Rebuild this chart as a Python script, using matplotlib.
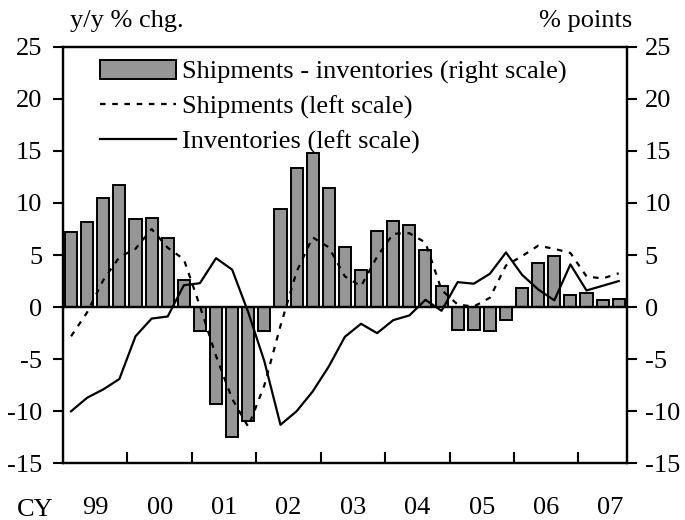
import numpy as np
import matplotlib.pyplot as plt
from matplotlib.ticker import FixedLocator, NullFormatter

plt.rcParams['font.family'] = ['Liberation Serif', 'DejaVu Serif']
plt.rcParams['axes.unicode_minus'] = False

# quarterly data, 1999 Q1 .. 2007 Q3
years = ["99", "00", "01", "02", "03", "04", "05", "06", "07"]

spread = [7.25, 8.2, 10.5, 11.7,
          8.45, 8.6, 6.6, 2.6,
          -2.3, -9.35, -12.5, -10.95,
          -2.3, 9.45, 13.4, 14.8,
          11.45, 5.8, 3.6, 7.35,
          8.3, 7.9, 5.5, 2.0,
          -2.15, -2.2, -2.3, -1.27,
          1.8, 4.2, 4.95, 1.13,
          1.35, 0.7, 0.75]

shipments = [-2.8, -0.5, 2.6, 4.8,
             5.6, 7.5, 5.7, 4.6,
             0.1, -4.7, -8.8, -11.5,
             -7.5, -1.8, 3.4, 6.7,
             5.75, 2.95, 2.0, 4.85,
             7.05, 7.1, 6.2, 1.65,
             0.25, 0.05, 0.9, 4.0,
             4.9, 5.9, 5.6, 5.2,
             2.95, 2.75, 3.25]

inventories = [-10.0, -8.7, -7.9, -6.9,
               -2.8, -1.1, -0.9, 2.1,
               2.3, 4.7, 3.6, -0.5,
               -5.2, -11.3, -10.0, -8.1,
               -5.7, -2.85, -1.6, -2.5,
               -1.25, -0.8, 0.7, -0.35,
               2.4, 2.25, 3.2, 5.25,
               3.1, 1.7, 0.65, 4.1,
               1.6, 2.05, 2.5]

x = np.arange(len(spread)) + 0.5
fs = 19

fig = plt.figure(figsize=(6.85, 5.2), dpi=100)
ax = fig.add_axes([0.092, 0.109, 0.823, 0.801])
ax2 = ax.twinx()

# bars on right scale, drawn behind the lines
ax2.bar(x, spread, width=0.75, color='#969696', edgecolor='black', linewidth=1.4,
        label="Shipments - inventories (right scale)")
ax.set_zorder(ax2.get_zorder() + 1)
ax.patch.set_visible(False)

ax.plot(x, shipments, color='black', lw=1.6, linestyle=(0, (2.5, 3.0)),
        label="Shipments (left scale)")
ax.plot(x, inventories, color='black', lw=1.6, label="Inventories (left scale)")

for a in (ax, ax2):
    a.set_xlim(0, 35)
    a.set_ylim(-15, 25)
    a.set_yticks(np.arange(-15, 26, 5))
    for s in a.spines.values():
        s.set_linewidth(1.6)
    a.axhline(0, color='black', lw=1.6, zorder=1)

ax.tick_params(axis='y', which='major', direction='out', length=7, width=1.5,
               labelsize=fs, pad=8)
ax2.tick_params(axis='y', which='major', direction='out', length=7, width=1.5,
                labelsize=fs, pad=6)

ax.xaxis.set_major_locator(FixedLocator(np.arange(2, 36, 4)))
ax.set_xticklabels(years)
ax.xaxis.set_minor_locator(FixedLocator(np.arange(4, 35, 4)))
ax.xaxis.set_minor_formatter(NullFormatter())
ax.tick_params(axis='x', which='major', length=0, labelsize=fs, pad=24)
ax.tick_params(axis='x', which='minor', direction='in', length=8, width=1.5)
ax2.tick_params(axis='x', which='both', length=0)

ax.text(-1.7, -19.5, "CY", fontsize=fs, ha='center', va='center')
fig.text(0.185, 0.96, "y/y % chg.", fontsize=fs, ha='center', va='center')
fig.text(0.855, 0.96, "% points", fontsize=fs, ha='center', va='center')

h1, l1 = ax2.get_legend_handles_labels()
h2, l2 = ax.get_legend_handles_labels()
ax.legend(h1 + h2, l1 + l2, loc='upper left', bbox_to_anchor=(0.065, 0.968),
          frameon=False, fontsize=fs, handlelength=2.9, handletextpad=0.22,
          labelspacing=0.42, borderpad=0, borderaxespad=0)

fig.savefig("out.png", dpi=100)
